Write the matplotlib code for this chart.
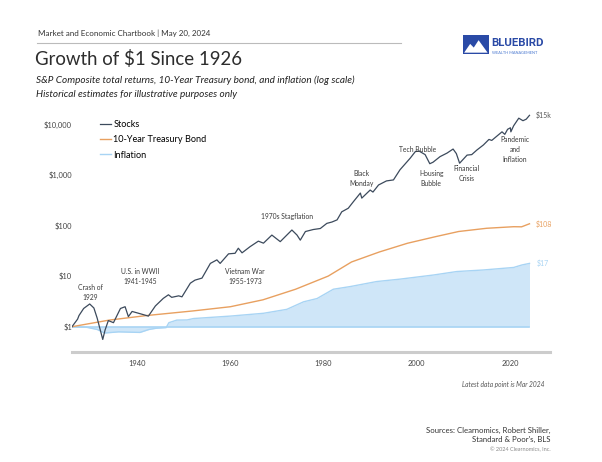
import numpy as np
import matplotlib.pyplot as plt
from matplotlib.patches import Rectangle, Polygon

plt.rcParams['font.family'] = ['Lato', 'DejaVu Sans']

# values (year, growth of $1)
stock_years = [1926.0, 1927.2, 1927.5, 1928.5, 1929.8, 1930.7, 1931.4, 1932.6, 1933.1, 1933.8,
               1934.9, 1936.4, 1937.4, 1938.1, 1938.9, 1940.3, 1942.4, 1943.9, 1945.6, 1946.7,
               1947.4, 1948.9, 1949.6, 1951.4, 1952.4, 1953.9, 1955.7, 1957.1, 1957.8, 1959.6,
               1961.0, 1961.7, 1962.5, 1964.2, 1966.0, 1967.1, 1968.9, 1970.7, 1973.2, 1974.3,
               1975.0, 1976.1, 1977.8, 1979.3, 1980.7, 1981.8, 1982.9, 1983.9, 1985.3, 1986.4,
               1987.9, 1988.2, 1990.0, 1990.6, 1991.8, 1993.5, 1995.0, 1996.4, 1998.6, 1999.7,
               2000.5, 2001.8, 2002.8, 2003.5, 2005.0, 2006.5, 2007.8, 2008.5, 2009.2, 2010.8,
               2011.8, 2012.9, 2014.3, 2015.5, 2016.1, 2018.3, 2018.9, 2019.5, 2020.1, 2020.2,
               2020.8, 2021.9, 2022.8, 2023.5, 2024.2]
stock_values = [1.0, 1.41, 1.66, 2.29, 2.81, 2.34, 1.48, 0.56, 0.86, 1.32,
                1.20, 2.29, 2.48, 1.58, 2.0, 1.84, 1.62, 2.57, 3.63, 4.27,
                3.80, 4.07, 3.89, 7.24, 8.32, 9.12, 17.8, 20.9, 17.8, 27.5,
                28.2, 35.5, 28.8, 38.0, 49.0, 44.7, 64.6, 47.9, 81.3, 64.6,
                51.3, 75.9, 83.2, 87.1, 110.0, 117.0, 129.0, 186.0, 219.0, 295.0,
                437.0, 347.0, 501.0, 457.0, 631.0, 759.0, 794.0, 1259.0, 2138.0, 2884.0,
                2951.0, 2512.0, 1660.0, 1778.0, 2291.0, 2692.0, 3236.0, 2630.0, 1698.0, 2455.0,
                2512.0, 3090.0, 3890.0, 5012.0, 4790.0, 7079.0, 6310.0, 7943.0, 8510.0, 7080.0,
                9330.0, 13183.0, 11749.0, 12589.0, 15000.0]

bond_years = [1926, 1934, 1942, 1952, 1960, 1967, 1974, 1981, 1986, 1992, 1998, 2004, 2009,
              2015, 2020.8, 2022.5, 2024.2]
bond_values = [1.0, 1.35, 1.66, 2.05, 2.48, 3.4, 5.5, 10.0, 19.0, 30.0, 44.5, 60.0, 76.0,
               88.0, 94.5, 94.0, 108.0]

cpi_years = [1926, 1929, 1931.4, 1933.0, 1936, 1940.6, 1942.5, 1944, 1946.2, 1946.8, 1948.5,
             1950.7, 1952.1, 1960, 1967.1, 1972.1, 1975.7, 1978.6, 1982.1, 1985.7, 1991.4,
             1996.4, 2003.6, 2008.6, 2014.3, 2020.8, 2022.6, 2024.2]
cpi_values = [1.0, 0.98, 0.88, 0.75, 0.79, 0.77, 0.88, 0.93, 0.96, 1.2, 1.35, 1.36, 1.45, 1.62,
              1.84, 2.2, 3.1, 3.6, 5.5, 6.2, 7.8, 8.7, 10.5, 12.3, 13.2, 14.8, 16.6, 17.8]

x_ticks = [1940, 1960, 1980, 2000, 2020]
y_ticks = [1, 10, 100, 1000, 10000]
y_tick_labels = ['$1', '$10', '$100', '$1,000', '$10,000']

events = [('Crash of\n1929', 1929.9, 4.8), ('U.S. in WWII\n1941-1945', 1940.6, 9.8),
          ('Vietnam War\n1955-1973', 1963.2, 9.8), ('1970s Stagflation', 1972.1, 147),
          ('Black\nMonday', 1988.1, 830), ('Tech Bubble', 2000.1, 3240),
          ('Housing\nBubble', 2003.1, 830), ('Financial\nCrisis', 2010.6, 1040),
          ('Pandemic\nand\nInflation', 2021.1, 3240)]

stock_c = '#3c4a5c'
bond_c = '#e8a060'
infl_c = '#a8d4f4'
fill_c = '#cfe6f8'
text_c = '#3a3a3a'

fig = plt.figure(figsize=(6.02, 4.62), dpi=100)
ax = fig.add_axes([0.1196, 0.2381, 0.7940, 0.5368])

ax.fill_between(cpi_years, 1, cpi_values, color=fill_c, lw=0)
ax.plot(cpi_years, cpi_values, color=infl_c, lw=1.0, label='Inflation')
ax.plot([cpi_years[0], cpi_years[-1]], [1, 1], color=infl_c, lw=1.2)
ax.plot(bond_years, bond_values, color=bond_c, lw=1.0, label='10-Year Treasury Bond')
ax.plot(stock_years, stock_values, color=stock_c, lw=0.9, label='Stocks')

ax.set_yscale('log')
ax.set_xlim(1926, 2028.6)
ax.set_ylim(10 ** -0.5, 10 ** 4.4)
ax.set_yticks(y_ticks)
ax.set_yticklabels(y_tick_labels)
ax.minorticks_off()
ax.set_xticks(x_ticks)
ax.tick_params(axis='both', length=0, labelsize=5.4, colors='#444444')
ax.tick_params(axis='x', pad=6)
ax.tick_params(axis='y', pad=0)
for s in ['top', 'right', 'left']:
    ax.spines[s].set_visible(False)
ax.spines['bottom'].set_color('#cccccc')
ax.spines['bottom'].set_linewidth(2.2)

h, l = ax.get_legend_handles_labels()
order = [2, 1, 0]
ax.legend([h[i] for i in order], [l[i] for i in order], loc='upper left',
          bbox_to_anchor=(0.05, 0.95), frameon=False, fontsize=6.6, handlelength=1.2,
          handletextpad=0.3, labelspacing=0.68, borderaxespad=0)

for txt, x, y in events:
    ax.text(x, y, txt, fontsize=4.9, color=text_c, ha='center', va='center', linespacing=1.5)

ax.text(2025.5, stock_values[-1], '$15k', fontsize=5, color='#555555', va='center')
ax.text(2025.5, bond_values[-1], '$108', fontsize=5, color=bond_c, va='center')
ax.text(2025.8, cpi_values[-1], '$17', fontsize=5, color=infl_c, va='center')

# header
fig.text(0.063, 0.928, 'Market and Economic Chartbook | May 20, 2024', fontsize=5.8,
         color='#333333', va='center')
fig.add_artist(plt.Line2D([0.061, 0.666], [0.908, 0.908], color='#bbbbbb', lw=0.8))
fig.text(0.058, 0.872, 'Growth of $1 Since 1926', fontsize=13.4, color='#2d2d2d', va='center')
fig.text(0.06, 0.826, 'S&P Composite total returns, 10-Year Treasury bond, and inflation (log scale)',
         fontsize=7.2, style='italic', color='#222222', va='center')
fig.text(0.06, 0.796, 'Historical estimates for illustrative purposes only',
         fontsize=7.2, style='italic', color='#222222', va='center')

# logo
blue = '#2a4aa6'
fig.add_artist(Rectangle((0.769, 0.883), 0.043, 0.041, transform=fig.transFigure,
                         color=blue, lw=0))
fig.add_artist(Polygon([(0.771, 0.886), (0.781, 0.905), (0.787, 0.897), (0.795, 0.913),
                        (0.810, 0.886)], closed=True, transform=fig.transFigure,
                       color='white', lw=0))
fig.text(0.816, 0.906, 'BLUEBIRD', fontsize=8.2, fontweight='bold', color=blue,
         va='center', family=['Roboto', 'DejaVu Sans'])
fig.text(0.817, 0.886, 'WEALTH MANAGEMENT', fontsize=2.8, color='#4a78d0', va='center')

# footer
fig.text(0.905, 0.168, 'Latest data point is Mar 2024', fontsize=4.8, style='italic',
         color='#555555', ha='right', va='center')
fig.text(0.915, 0.042, "Sources: Clearnomics, Robert Shiller,\nStandard & Poor's, BLS",
         fontsize=5.6, color='#333333', ha='right', va='bottom', linespacing=1.3)
fig.text(0.915, 0.026, '\u00a9 2024 Clearnomics, Inc.', fontsize=4, color='#888888',
         ha='right', va='center')

fig.savefig('out.png', dpi=100)
